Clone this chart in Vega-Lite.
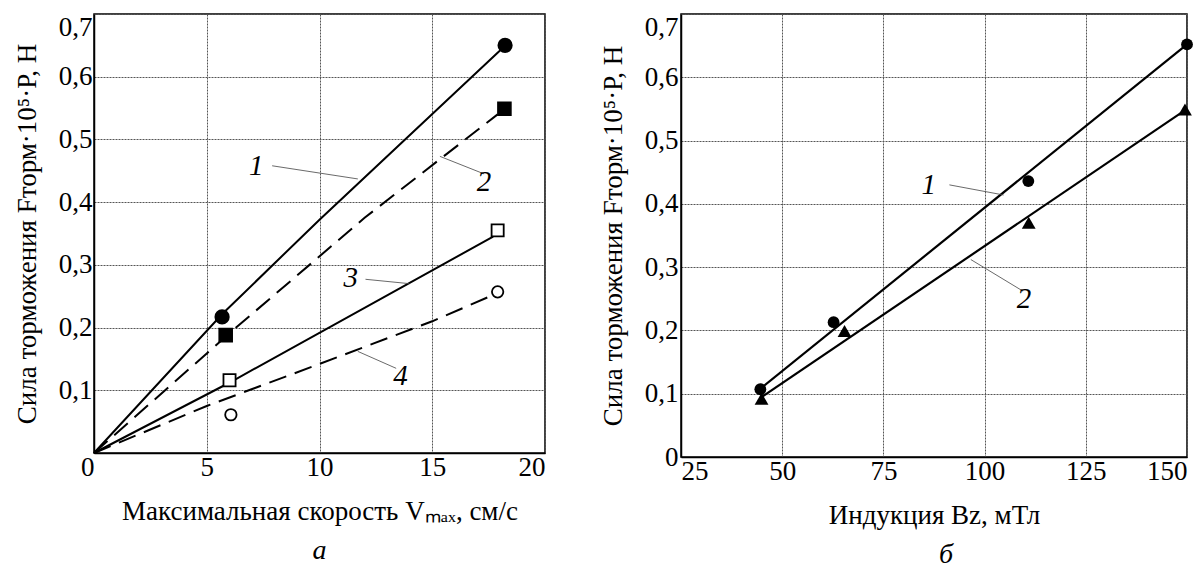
{
  "$schema": "https://vega.github.io/schema/vega-lite/v6.json",
  "padding": {"left": 12, "top": 12, "right": 4, "bottom": 2},
  "spacing": 52,
  "config": {
    "font": "Liberation Serif, Times New Roman, serif",
    "view": {"stroke": "#000", "strokeWidth": 1.5},
    "style": {
      "guide-label": {"font": "Liberation Serif, Times New Roman, serif", "fontSize": 27, "fill": "#000"},
      "guide-title": {"font": "Liberation Serif, Times New Roman, serif", "fontSize": 27, "fontWeight": "normal", "fill": "#000"}
    },
    "axis": {
      "ticks": false,
      "domainColor": "#000",
      "domainWidth": 1.5,
      "gridColor": "#555",
      "gridDash": [2, 1],
      "gridWidth": 1,
      "labelFont": "Liberation Serif, Times New Roman, serif",
      "labelFontSize": 27,
      "labelColor": "#000",
      "titleFont": "Liberation Serif, Times New Roman, serif",
      "titleFontSize": 27,
      "titleFontWeight": "normal",
      "titleColor": "#000"
    },
    "title": {"font": "Liberation Serif, Times New Roman, serif", "fontSize": 28, "fontStyle": "italic", "fontWeight": "normal", "color": "#000"}
  },
  "datasets": {
    "leftLines": [
      {"series": "1", "v": 0, "f": 0},
      {"series": "1", "v": 5.7, "f": 0.222},
      {"series": "1", "v": 10, "f": 0.372},
      {"series": "1", "v": 18.1, "f": 0.645},
      {"series": "3", "v": 0, "f": 0},
      {"series": "3", "v": 6.0, "f": 0.112},
      {"series": "3", "v": 17.7, "f": 0.345}
    ],
    "leftDashed": [
      {"series": "2", "v": 0, "f": 0},
      {"series": "2", "v": 6.3, "f": 0.2},
      {"series": "2", "v": 12.0, "f": 0.375},
      {"series": "2", "v": 17.9, "f": 0.54},
      {"series": "4", "v": 0, "f": 0},
      {"series": "4", "v": 5, "f": 0.075},
      {"series": "4", "v": 10, "f": 0.142},
      {"series": "4", "v": 15, "f": 0.21},
      {"series": "4", "v": 17.7, "f": 0.252}
    ],
    "leftPoints": [
      {"series": "1", "v": 5.68, "f": 0.217},
      {"series": "1", "v": 18.23, "f": 0.65},
      {"series": "2", "v": 5.84, "f": 0.188},
      {"series": "2", "v": 18.2, "f": 0.549},
      {"series": "3", "v": 6.01, "f": 0.116},
      {"series": "3", "v": 17.9, "f": 0.355},
      {"series": "4", "v": 6.07, "f": 0.061},
      {"series": "4", "v": 17.9, "f": 0.257}
    ],
    "leftLabels": [
      {"label": "1", "v": 7.6, "f": 0.457},
      {"label": "2", "v": 17.7, "f": 0.432},
      {"label": "3", "v": 11.8, "f": 0.279},
      {"label": "4", "v": 14.0, "f": 0.122}
    ],
    "leftLeaders": [
      {"v": 7.9, "f": 0.458, "v2": 11.7, "f2": 0.437},
      {"v": 15.34, "f": 0.473, "v2": 17.3, "f2": 0.445},
      {"v": 12.04, "f": 0.277, "v2": 13.99, "f2": 0.27},
      {"v": 11.7, "f": 0.162, "v2": 13.4, "f2": 0.135}
    ],
    "rightLines": [
      {"series": "1", "b": 45, "f": 0.11},
      {"series": "1", "b": 150, "f": 0.652},
      {"series": "2", "b": 45, "f": 0.095},
      {"series": "2", "b": 150, "f": 0.55}
    ],
    "rightCircles": [
      {"series": "1", "b": 44.6, "f": 0.107},
      {"series": "1", "b": 62.7, "f": 0.213},
      {"series": "1", "b": 110.8, "f": 0.436},
      {"series": "1", "b": 150, "f": 0.652}
    ],
    "rightTriangles": [
      {"series": "2", "b": 44.9, "f": 0.092},
      {"series": "2", "b": 65.4, "f": 0.199},
      {"series": "2", "b": 110.9, "f": 0.37},
      {"series": "2", "b": 149.5, "f": 0.549}
    ],
    "rightLabels": [
      {"label": "1", "b": 88.5, "f": 0.43},
      {"label": "2", "b": 112, "f": 0.25}
    ],
    "rightLeaders": [
      {"b": 91.3, "f": 0.43, "b2": 104.7, "f2": 0.414},
      {"b": 96.6, "f": 0.312, "b2": 109.5, "f2": 0.262}
    ]
  },
  "hconcat": [
    {
      "width": 451,
      "height": 439,
      "title": {"text": "а", "orient": "bottom", "offset": 13},
      "encoding": {
        "x": {
          "field": "v", "type": "quantitative",
          "scale": {"domain": [0, 20], "nice": false},
          "axis": {
            "values": [0, 5, 10, 15, 20],
            "title": "Максимальная скорость Vₘₐₓ, см/с",
            "titlePadding": 18,
            "labelPadding": 1,
            "labelFont": "Liberation Serif, Times New Roman, serif",
            "titleFont": "Liberation Serif, Times New Roman, serif",
            "labelAlign": {"condition": {"test": "datum.value == 0 || datum.value == 20", "value": "right"}, "value": "center"}
          }
        },
        "y": {
          "field": "f", "type": "quantitative",
          "scale": {"domain": [0, 0.7], "nice": false},
          "axis": {
            "values": [0, 0.1, 0.2, 0.3, 0.4, 0.5, 0.6, 0.7],
            "labelExpr": "datum.value == 0 ? '' : replace(format(datum.value, '.1f'), '.', ',')",
            "labelBaseline": {"condition": {"test": "datum.value >= 0.69", "value": "top"}, "value": "middle"},
            "labelPadding": 2,
            "labelFont": "Liberation Serif, Times New Roman, serif",
            "titleFont": "Liberation Serif, Times New Roman, serif",
            "title": "Сила торможения Fторм·10⁵·P, Н",
            "titlePadding": 17
          }
        }
      },
      "layer": [
        {
          "data": {"name": "leftLines"},
          "mark": {"type": "line", "color": "#000", "strokeWidth": 2},
          "encoding": {"detail": {"field": "series"}}
        },
        {
          "data": {"name": "leftDashed"},
          "mark": {"type": "line", "color": "#000", "strokeWidth": 2, "strokeDash": [18, 9]},
          "encoding": {"detail": {"field": "series"}}
        },
        {
          "data": {"name": "leftLeaders"},
          "mark": {"type": "rule", "color": "#444", "strokeWidth": 0.8},
          "encoding": {
            "x2": {"field": "v2"},
            "y2": {"field": "f2"}
          }
        },
        {
          "data": {"name": "leftPoints"},
          "mark": {"type": "point", "opacity": 1, "strokeWidth": 1.8, "stroke": "#000"},
          "encoding": {
            "shape": {"field": "series", "type": "nominal", "scale": {"domain": ["1", "2", "3", "4"], "range": ["circle", "square", "square", "circle"]}, "legend": null},
            "fill": {"field": "series", "type": "nominal", "scale": {"domain": ["1", "2", "3", "4"], "range": ["#000", "#000", "#fff", "#fff"]}, "legend": null},
            "size": {"field": "series", "type": "nominal", "scale": {"domain": ["1", "2", "3", "4"], "range": [180, 130, 150, 80]}, "legend": null}
          }
        },
        {
          "data": {"name": "leftLabels"},
          "mark": {"type": "text", "font": "Liberation Serif, Times New Roman, serif", "fontSize": 29, "fontStyle": "italic", "align": "right", "baseline": "middle", "dx": -2},
          "encoding": {"text": {"field": "label"}}
        }
      ]
    },
    {
      "width": 506,
      "height": 443,
      "title": {"text": "б", "orient": "bottom", "offset": 13, "dx": 12},
      "encoding": {
        "x": {
          "field": "b", "type": "quantitative",
          "scale": {"domain": [25, 150], "nice": false},
          "axis": {
            "values": [25, 50, 75, 100, 125, 150],
            "title": "Индукция Bz, мТл",
            "titlePadding": 18,
            "labelPadding": 1,
            "labelFont": "Liberation Serif, Times New Roman, serif",
            "titleFont": "Liberation Serif, Times New Roman, serif",
            "labelAlign": {"condition": [{"test": "datum.value == 25", "value": "left"}, {"test": "datum.value == 150", "value": "right"}], "value": "center"}
          }
        },
        "y": {
          "field": "f", "type": "quantitative",
          "scale": {"domain": [0, 0.7], "nice": false},
          "axis": {
            "values": [0, 0.1, 0.2, 0.3, 0.4, 0.5, 0.6, 0.7],
            "labelExpr": "datum.value == 0 ? '0' : replace(format(datum.value, '.1f'), '.', ',')",
            "labelBaseline": {"condition": {"test": "datum.value >= 0.69", "value": "top"}, "value": "middle"},
            "labelPadding": 3,
            "labelFont": "Liberation Serif, Times New Roman, serif",
            "titleFont": "Liberation Serif, Times New Roman, serif",
            "title": "Сила торможения Fторм·10⁵·P, Н",
            "titlePadding": 17
          }
        }
      },
      "layer": [
        {
          "data": {"name": "rightLines"},
          "mark": {"type": "line", "color": "#000", "strokeWidth": 2.2},
          "encoding": {"detail": {"field": "series"}}
        },
        {
          "data": {"name": "rightLeaders"},
          "mark": {"type": "rule", "color": "#444", "strokeWidth": 0.8},
          "encoding": {
            "x2": {"field": "b2"},
            "y2": {"field": "f2"}
          }
        },
        {
          "data": {"name": "rightCircles"},
          "mark": {"type": "point", "shape": "circle", "size": 140, "opacity": 1, "filled": true, "color": "#000"},
          "encoding": {}
        },
        {
          "data": {"name": "rightTriangles"},
          "mark": {"type": "point", "shape": "triangle-up", "size": 190, "opacity": 1, "filled": true, "color": "#000"},
          "encoding": {}
        },
        {
          "data": {"name": "rightLabels"},
          "mark": {"type": "text", "font": "Liberation Serif, Times New Roman, serif", "fontSize": 29, "fontStyle": "italic", "align": "right", "baseline": "middle", "dx": -2},
          "encoding": {"text": {"field": "label"}}
        }
      ]
    }
  ]
}
